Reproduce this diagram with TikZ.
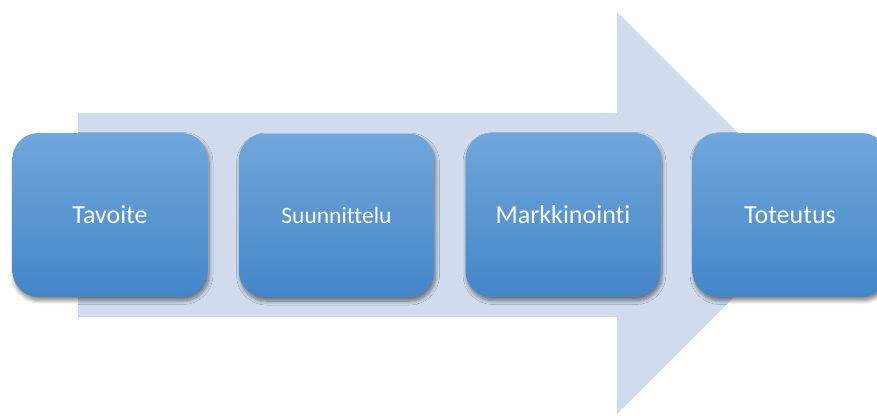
\documentclass[tikz,border=0pt]{standalone}
\usepackage{fontspec}
\setmainfont[RawFeature={-liga;-clig}]{Carlito}
\usetikzlibrary{shadows.blur}
\definecolor{arrowfill}{HTML}{D0DCEE}
\definecolor{boxtop}{HTML}{70A6DB}
\definecolor{boxbot}{HTML}{4386C9}
\tikzset{
  stagebox/.style={rounded corners=26pt, top color=boxtop, bottom color=boxbot,
    draw=none, minimum width=195pt, minimum height=164pt, text=white,
    font=\fontsize{26}{30}\selectfont, inner sep=0pt,
    blur shadow={shadow xshift=1.5pt, shadow yshift=-3.5pt, shadow blur steps=8, shadow opacity=50, shadow blur radius=4pt}},
  bigarrow/.style={fill=arrowfill, draw=none}
}
\begin{document}
\begin{tikzpicture}[x=1pt,y=-1pt]
\useasboundingbox (0,0) rectangle (877,415);
\clip (0,0) rectangle (877,415);
\path[bigarrow] (78,113) -- (617,113) -- (617,12) -- (818,213) -- (617,414) -- (617,317) -- (78,317) -- cycle;
\node[stagebox] (n1) at (110,215) {Tavoite};
\node[stagebox, font=\fontsize{23.5}{28}\selectfont] (n2) at (336.5,215.5) {Suunnittelu};
\node[stagebox] (n3) at (563,215) {Markkinointi};
\node[stagebox] (n4) at (790,215) {Toteutus};
\end{tikzpicture}
\end{document}
